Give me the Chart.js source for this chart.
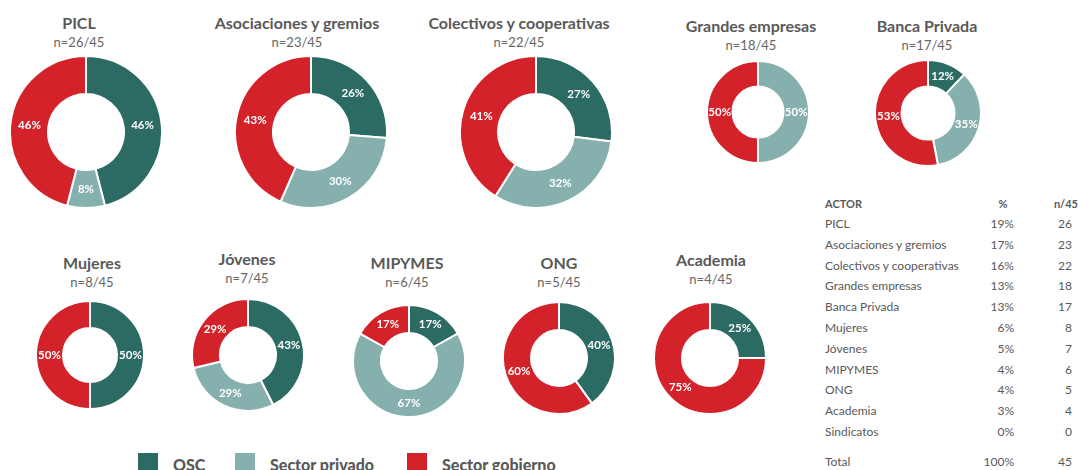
<!DOCTYPE html>
<html>
<head>
<meta charset="utf-8">
<script src="https://cdn.jsdelivr.net/npm/chart.js@4.4.0/dist/chart.umd.min.js"></script>
<style>
  body { margin: 0; background: #fff; font-family: Lato, "Open Sans", sans-serif; color: #595959; }
  #page { position: relative; width: 1078px; height: 470px; overflow: hidden; }
  .box { position: absolute; }
  .title { position: absolute; font-weight: bold; font-size: 16px; white-space: nowrap; transform: translate(-50%, -50%); }
  .sub { position: absolute; font-size: 13px; white-space: nowrap; transform: translate(-50%, -50%); color: #666; }
  .cell { position: absolute; font-size: 12px; white-space: nowrap; line-height: 16px; transform: translateY(-50%); }
  .cell.r { transform: translate(-100%, -50%); }
  .cell.c { transform: translate(-50%, -50%); }
  .cell.h { font-weight: bold; font-size: 11px; }
  .leg { position: absolute; top: 453px; font-weight: bold; font-size: 16px; white-space: nowrap; }
  .leg span { position: absolute; top: 0; width: 20px; height: 20px; }
</style>
</head>
<body>
<div id="page"></div>
<script>
// chart data
const actors = ['PICL', 'Asociaciones y gremios', 'Colectivos y cooperativas', 'Grandes empresas', 'Banca Privada',
                'Mujeres', 'Jóvenes', 'MIPYMES', 'ONG', 'Academia'];
const nValues = [26, 23, 22, 18, 17, 8, 7, 6, 5, 4];
const nTotal = 45;
const oscPct = [46, 26, 27, 0, 12, 50, 43, 17, 40, 25];
const privadoPct = [8, 30, 32, 50, 35, 0, 29, 67, 0, 0];
const gobiernoPct = [46, 43, 41, 50, 53, 50, 29, 17, 60, 75];
const seriesNames = ['OSC', 'Sector privado', 'Sector gobierno'];

// table data
const tableActors = ['PICL', 'Asociaciones y gremios', 'Colectivos y cooperativas', 'Grandes empresas', 'Banca Privada',
                     'Mujeres', 'Jóvenes', 'MIPYMES', 'ONG', 'Academia', 'Sindicatos'];
const tablePct = [19, 17, 16, 13, 13, 6, 5, 4, 4, 3, 0];
const tableN = [26, 23, 22, 18, 17, 8, 7, 6, 5, 4, 0];

const colors = ['#2b6b64', '#86b0ad', '#d3222a'];

// where each doughnut sits: center, radius, title position
const layout = [
  { cx: 86,  cy: 132, r: 76, tx: 79,  ty: 22 },
  { cx: 311, cy: 132, r: 76, tx: 297, ty: 22 },
  { cx: 536, cy: 132, r: 76, tx: 519, ty: 22 },
  { cx: 758, cy: 112, r: 51, tx: 751, ty: 25 },
  { cx: 928, cy: 113, r: 53, tx: 927, ty: 25 },
  { cx: 90,  cy: 355, r: 54, tx: 92,  ty: 262 },
  { cx: 248, cy: 355, r: 56, tx: 247, ty: 258 },
  { cx: 409, cy: 361, r: 56, tx: 407, ty: 262 },
  { cx: 559, cy: 358, r: 56, tx: 559, ty: 262 },
  { cx: 710, cy: 358, r: 56, tx: 711, ty: 259 }
];

const page = document.getElementById('page');

// white % labels in the middle of each ring slice
const pctLabels = {
  id: 'pctLabels',
  afterDatasetsDraw(chart) {
    const ctx = chart.ctx;
    const ds = chart.data.datasets[0];
    ctx.save();
    ctx.fillStyle = '#fff';
    ctx.font = 'bold 11.5px Lato, sans-serif';
    ctx.textAlign = 'center';
    ctx.textBaseline = 'middle';
    chart.getDatasetMeta(0).data.forEach((arc, i) => {
      const v = ds.data[i];
      if (!v) return;
      const p = arc.tooltipPosition();
      ctx.fillText(v + '%', p.x, p.y);
    });
    ctx.restore();
  }
};

actors.forEach((name, i) => {
  const L = layout[i];
  const t = document.createElement('div');
  t.className = 'title';
  t.style.left = L.tx + 'px';
  t.style.top = L.ty + 'px';
  t.textContent = name;
  page.appendChild(t);
  const s = document.createElement('div');
  s.className = 'sub';
  s.style.left = L.tx + 'px';
  s.style.top = (L.ty + 20) + 'px';
  s.textContent = 'n=' + nValues[i] + '/' + nTotal;
  page.appendChild(s);

  // skip zero slices so no stray border is drawn
  const vals = [oscPct[i], privadoPct[i], gobiernoPct[i]];
  const data = [], bg = [], labels = [];
  vals.forEach((v, k) => {
    if (v > 0) { data.push(v); bg.push(colors[k]); labels.push(seriesNames[k]); }
  });

  const size = 2 * L.r + 2;
  const box = document.createElement('div');
  box.className = 'box';
  box.style.left = (L.cx - size / 2) + 'px';
  box.style.top = (L.cy - size / 2) + 'px';
  box.style.width = size + 'px';
  box.style.height = size + 'px';
  const cv = document.createElement('canvas');
  box.appendChild(cv);
  page.appendChild(box);

  new Chart(cv.getContext('2d'), {
    type: 'doughnut',
    data: {
      labels: labels,
      datasets: [{ data: data, backgroundColor: bg, borderColor: '#fff', borderWidth: 2 }]
    },
    options: {
      responsive: true,
      maintainAspectRatio: false,
      animation: false,
      cutout: '50%',
      plugins: { legend: { display: false }, tooltip: { enabled: false } }
    },
    plugins: [pctLabels]
  });
});

// summary table
function cell(text, x, y, cls) {
  const d = document.createElement('div');
  d.className = 'cell ' + (cls || '');
  d.style.left = x + 'px';
  d.style.top = y + 'px';
  d.textContent = text;
  page.appendChild(d);
}
const rowY0 = 224, rowH = 20.8;
cell('ACTOR', 825, 204, 'h');
cell('%', 1003, 204, 'h c');
cell('n/' + nTotal, 1078, 204, 'h r');
tableActors.forEach((a, i) => {
  const y = rowY0 + i * rowH;
  cell(a, 825, y);
  cell(tablePct[i] + '%', 1014, y, 'r');
  cell(String(tableN[i]), 1072, y, 'r');
});
cell('Total', 825, 462);
cell('100%', 1014, 462, 'r');
cell(String(nTotal), 1072, 462, 'r');

// legend
const legX = [138, 235, 407];
seriesNames.forEach((n, k) => {
  const d = document.createElement('div');
  d.className = 'leg';
  d.style.left = legX[k] + 'px';
  d.innerHTML = '<span style="left:0;background:' + colors[k] + '"></span><b style="position:absolute;left:35px;top:0;line-height:24px">' + n + '</b>';
  page.appendChild(d);
});
</script>
</body>
</html>
